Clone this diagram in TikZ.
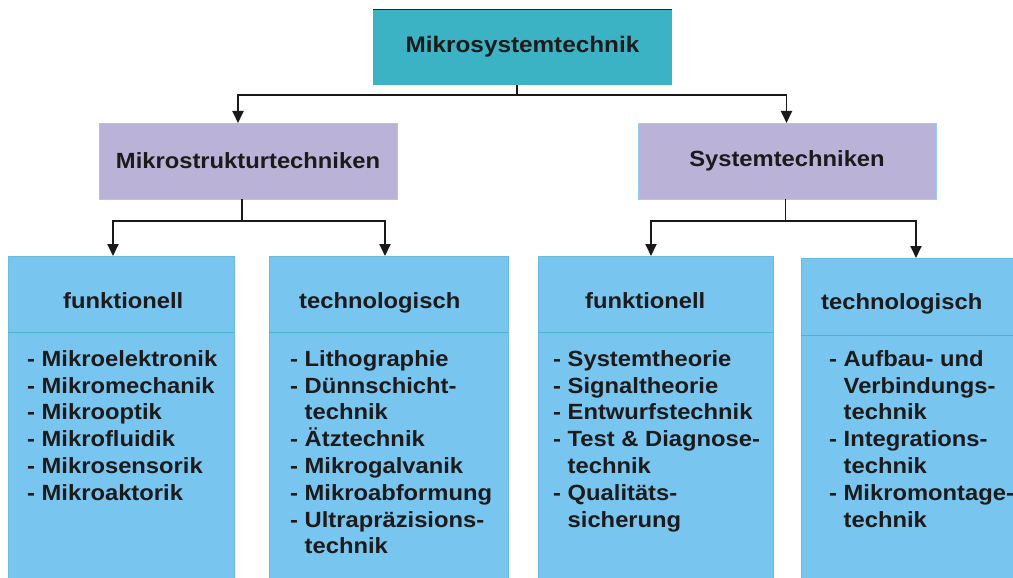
\documentclass[tikz,border=0pt]{standalone}
\usepackage{fontspec}
\newfontfamily\dfont{Liberation Sans}[FakeStretch=1.08]
\usetikzlibrary{arrows.meta}
\definecolor{teal1}{HTML}{3BB3C4}
\definecolor{lav}{HTML}{BAB2D7}
\definecolor{lblue}{HTML}{78C5EF}
\definecolor{divc}{HTML}{4BB5CE}
\definecolor{edgec}{HTML}{6CBBDD}
\definecolor{txt}{HTML}{1C1A1A}
\tikzset{
  x=1pt, y=-1pt,
  boxbase/.style={rectangle, anchor=north west, inner sep=0pt, outer sep=0pt},
  topbox/.style={boxbase, fill=teal1, minimum width=299, minimum height=76,
    font=\dfont\bfseries\fontsize{22.5}{26}\selectfont, text=txt},
  midbox/.style={boxbase, fill=lav, draw=lblue!80!white, line width=0.6pt, minimum width=298, minimum height=76,
    font=\dfont\bfseries\fontsize{22}{26}\selectfont, text=txt},
  lowbox/.style={boxbase, fill=lblue, draw=edgec, line width=0.5pt, minimum height=322},
  headtxt/.style={anchor=base west, inner sep=0pt, text=txt, font=\dfont\bfseries\fontsize{22}{26}\selectfont},
  listtxt/.style={anchor=north west, inner sep=0pt, text=txt, align=left, font=\dfont\bfseries\fontsize{22}{26.8}\selectfont},
  divline/.style={draw=divc, line width=0.9pt},
  conn/.style={draw=black!90, line width=1.9pt},
  arr/.style={conn, -{Triangle[length=12pt,width=11pt]}},
}
\newcommand{\ind}{\phantom{- }}
\newcommand{\fl}{\rule{0pt}{17pt}}
\begin{document}
\begin{tikzpicture}
\useasboundingbox (0,0) rectangle (1013,578);
% boxes
\node[topbox] (top) at (373,9) {Mikrosystemtechnik};
\draw[black!85, line width=0.8pt] (top.north west) -- (top.north east);
\node[midbox] (mikro) at (99,123) {Mikrostrukturtechniken};
\node[midbox] (sys) at (638,123) {Systemtechniken};
\node[lowbox, minimum width=226] (f1) at (8,256) {};
\node[lowbox, minimum width=239] (t1) at (269,256) {};
\node[lowbox, minimum width=235] (f2) at (538,256) {};
\node[lowbox, minimum width=212, minimum height=320] (t2) at (801,258) {};
% dividers
\draw[divline] (f1.north west) ++(0,76) -- ++(226,0);
\draw[divline] (t1.north west) ++(0,76) -- ++(239,0);
\draw[divline] (f2.north west) ++(0,76) -- ++(235,0);
\draw[divline] (t2.north west) ++(0,77) -- ++(212,0);
% headers
\node[headtxt] (hf1) at (63,308) {funktionell};
\node[headtxt] (ht1) at (299,308) {technologisch};
\node[headtxt] (hf2) at (585,308) {funktionell};
\node[headtxt] (ht2) at (821,309) {technologisch};
% lists
\node[listtxt] (l1) at (27,349) {\fl- Mikroelektronik\\- Mikromechanik\\- Mikrooptik\\- Mikrofluidik\\- Mikrosensorik\\- Mikroaktorik};
\node[listtxt] (l2) at (290,349) {\fl- Lithographie\\- Dünnschicht-\\\ind technik\\- Ätztechnik\\- Mikrogalvanik\\- Mikroabformung\\- Ultrapräzisions-\\\ind technik};
\node[listtxt] (l3) at (553,349) {\fl- Systemtheorie\\- Signaltheorie\\- Entwurfstechnik\\- Test \& Diagnose-\\\ind technik\\- Qualitäts-\\\ind sicherung};
\node[listtxt] (l4) at (829,349) {\fl- Aufbau- und\\\ind Verbindungs-\\\ind technik\\- Integrations-\\\ind technik\\- Mikromontage-\\\ind technik};
% connectors
\draw[conn] ([xshift=-5.5]top.south) -- ++(0,10) coordinate (j0);
\draw[arr] (j0) -| ([xshift=-10]mikro.north);
\draw[arr] (j0) -| ([xshift=-0.5]sys.north);
\draw[conn] ([xshift=-6]mikro.south) -- ++(0,22) coordinate (j1);
\draw[arr] (j1) -| ([xshift=-8]f1.north);
\draw[arr] (j1) -| ([xshift=-3.5]t1.north);
\draw[conn] ([xshift=-1.5]sys.south) -- ++(0,22) coordinate (j2);
\draw[arr] (j2) -| ([xshift=-4.5]f2.north);
\draw[arr] (j2) -| ([xshift=9]t2.north);
\end{tikzpicture}
\end{document}
